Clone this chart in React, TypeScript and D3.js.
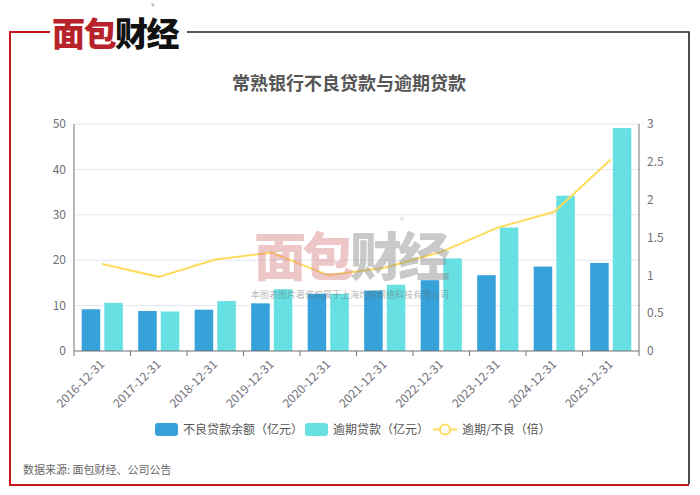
import React, { useEffect, useRef } from 'react';
import * as d3 from 'd3';

// chart data
const categories = [
  '2016-12-31', '2017-12-31', '2018-12-31', '2019-12-31', '2020-12-31',
  '2021-12-31', '2022-12-31', '2023-12-31', '2024-12-31', '2025-12-31',
];
const nplBalance = [9.2, 8.8, 9.1, 10.5, 12.6, 13.3, 15.6, 16.7, 18.6, 19.4];
const overdueLoans = [10.6, 8.7, 11.0, 13.6, 12.6, 14.6, 20.4, 27.2, 34.2, 49.1];
const overdueRatio = [1.15, 0.98, 1.21, 1.30, 1.0, 1.1, 1.31, 1.63, 1.84, 2.53];
const leftTicks = [0, 10, 20, 30, 40, 50];
const rightTicks = [0, 0.5, 1, 1.5, 2, 2.5, 3];
const seriesNames = ['不良贷款余额（亿元）', '逾期贷款（亿元）', '逾期/不良（倍）'];

const FONT = '"Noto Sans CJK SC", "Noto Sans", sans-serif';

const App: React.FC = () => {
  const svgRef = useRef<SVGSVGElement>(null);

  useEffect(() => {
    if (!svgRef.current) return;
    const svg = d3.select(svgRef.current);
    svg.selectAll('*').remove();

    const W = 700;
    const H = 495;
    const plot = { left: 74, right: 639, top: 124, bottom: 351 };

    svg.append('rect').attr('width', W).attr('height', H).attr('fill', '#fff');

    // frame
    const frame = svg.append('g').attr('fill', 'none');
    frame.append('path').attr('d', 'M50,32 H10 V485 H689').attr('stroke', '#c8161d').attr('stroke-width', 2);
    frame.append('path').attr('d', 'M187,32 H689 V484').attr('stroke', '#222').attr('stroke-width', 1.6);

    // logo
    const logo = svg.append('text')
      .attr('x', 52)
      .attr('y', 46)
      .attr('font-family', FONT)
      .attr('font-size', 33)
      .attr('font-weight', 900)
      .attr('letter-spacing', -1.5);
    logo.append('tspan').attr('fill', '#b8222b').text('面包');
    logo.append('tspan').attr('fill', '#111').text('财经');
    svg.append('text')
      .attr('x', 153).attr('y', 9)
      .attr('text-anchor', 'middle')
      .attr('font-size', 7).attr('fill', '#888').attr('font-family', FONT)
      .text('®');

    // title
    svg.append('text')
      .attr('x', 349)
      .attr('y', 90)
      .attr('text-anchor', 'middle')
      .attr('font-family', FONT)
      .attr('font-size', 18)
      .attr('font-weight', 'bold')
      .attr('fill', '#555')
      .text('常熟银行不良贷款与逾期贷款');

    // scales
    const x0 = d3.scaleBand<string>().domain(categories).range([plot.left, plot.right]);
    const x1 = d3.scaleBand<string>()
      .domain(['npl', 'overdue'])
      .range([0, x0.bandwidth()])
      .paddingInner(0.18)
      .paddingOuter(0.34);
    const yL = d3.scaleLinear().domain([0, 50]).range([plot.bottom, plot.top]);
    const yR = d3.scaleLinear().domain([0, 3]).range([plot.bottom, plot.top]);

    // grid
    svg.append('g')
      .selectAll('line')
      .data(leftTicks.slice(1))
      .enter()
      .append('line')
      .attr('x1', plot.left).attr('x2', plot.right)
      .attr('y1', d => yL(d)).attr('y2', d => yL(d))
      .attr('stroke', '#e0e6f1');

    // axes
    const axisColor = '#6e7079';
    svg.append('line')
      .attr('x1', plot.left).attr('x2', plot.left)
      .attr('y1', plot.top).attr('y2', plot.bottom)
      .attr('stroke', axisColor);
    svg.append('line')
      .attr('x1', plot.right).attr('x2', plot.right)
      .attr('y1', plot.top).attr('y2', plot.bottom)
      .attr('stroke', axisColor);

    svg.append('g')
      .selectAll('text')
      .data(leftTicks)
      .enter()
      .append('text')
      .attr('x', plot.left - 8)
      .attr('y', d => yL(d))
      .attr('dy', '0.35em')
      .attr('text-anchor', 'end')
      .attr('font-family', FONT)
      .attr('font-size', 12)
      .attr('fill', axisColor)
      .text(d => d);

    svg.append('g')
      .selectAll('text')
      .data(rightTicks)
      .enter()
      .append('text')
      .attr('x', plot.right + 8)
      .attr('y', d => yR(d))
      .attr('dy', '0.35em')
      .attr('font-family', FONT)
      .attr('font-size', 12)
      .attr('fill', axisColor)
      .text(d => d);

    // bars
    const barData = categories.map((c, i) => ({ c, npl: nplBalance[i], overdue: overdueLoans[i] }));
    const groups = svg.append('g')
      .selectAll('g')
      .data(barData)
      .enter()
      .append('g')
      .attr('transform', d => `translate(${x0(d.c)},0)`);

    groups.append('rect')
      .attr('x', x1('npl')!)
      .attr('width', x1.bandwidth())
      .attr('y', d => yL(d.npl))
      .attr('height', d => plot.bottom - yL(d.npl))
      .attr('fill', '#37a2da');

    groups.append('rect')
      .attr('x', x1('overdue')!)
      .attr('width', x1.bandwidth())
      .attr('y', d => yL(d.overdue))
      .attr('height', d => plot.bottom - yL(d.overdue))
      .attr('fill', '#67e0e3');

    // x axis
    svg.append('line')
      .attr('x1', plot.left).attr('x2', plot.right)
      .attr('y1', plot.bottom).attr('y2', plot.bottom)
      .attr('stroke', axisColor);
    const boundaries = categories.map(c => x0(c)!).concat([plot.right]);
    svg.append('g')
      .selectAll('line')
      .data(boundaries)
      .enter()
      .append('line')
      .attr('x1', d => d).attr('x2', d => d)
      .attr('y1', plot.bottom).attr('y2', plot.bottom + 5)
      .attr('stroke', axisColor);

    svg.append('g')
      .selectAll('text')
      .data(categories)
      .enter()
      .append('text')
      .attr('transform', d => `translate(${x0(d)! + x0.bandwidth() / 2},${plot.bottom + 11}) rotate(-45)`)
      .attr('text-anchor', 'end')
      .attr('dy', '0.35em')
      .attr('font-family', FONT)
      .attr('font-size', 12)
      .attr('fill', axisColor)
      .text(d => d);

    // ratio line
    const line = d3.line<number>()
      .x((_, i) => x0(categories[i])! + x0.bandwidth() / 2)
      .y(d => yR(d));
    svg.append('path')
      .datum(overdueRatio)
      .attr('d', line)
      .attr('fill', 'none')
      .attr('stroke', '#ffdb5c')
      .attr('stroke-width', 2);

    // legend
    const legend = svg.append('g').attr('font-family', FONT).attr('font-size', 12).attr('fill', '#555');
    const lx = [155, 305, 433];
    legend.append('rect').attr('x', lx[0]).attr('y', 423).attr('width', 23).attr('height', 13).attr('rx', 3).attr('fill', '#37a2da');
    legend.append('rect').attr('x', lx[1]).attr('y', 423).attr('width', 23).attr('height', 13).attr('rx', 3).attr('fill', '#67e0e3');
    legend.append('line').attr('x1', lx[2]).attr('x2', lx[2] + 24).attr('y1', 429.5).attr('y2', 429.5)
      .attr('stroke', '#ffdb5c').attr('stroke-width', 2);
    legend.append('circle').attr('cx', lx[2] + 12).attr('cy', 429.5).attr('r', 5)
      .attr('fill', '#fff').attr('stroke', '#ffdb5c').attr('stroke-width', 2);
    const textX = [183, 333, 462];
    seriesNames.forEach((name, i) => {
      legend.append('text')
        .attr('x', textX[i])
        .attr('y', 429.5)
        .attr('dy', '0.35em')
        .text(name);
    });

    // source
    svg.append('text')
      .attr('x', 23)
      .attr('y', 474)
      .attr('font-family', FONT)
      .attr('font-size', 11)
      .attr('fill', '#666')
      .text('数据来源: 面包财经、公司公告');

    // watermark
    const wm = svg.append('g').attr('opacity', 0.45).attr('font-family', FONT);
    const wmText = wm.append('text')
      .attr('x', 254)
      .attr('y', 276)
      .attr('font-size', 52)
      .attr('font-weight', 900)
      .attr('letter-spacing', -4);
    wmText.append('tspan').attr('fill', '#d98486').text('面包');
    wmText.append('tspan').attr('fill', '#8a8a8a').text('财经');
    wm.append('text')
      .attr('x', 402).attr('y', 224)
      .attr('text-anchor', 'middle')
      .attr('font-size', 9).attr('fill', '#999')
      .text('®');
    wm.append('text')
      .attr('x', 350).attr('y', 298)
      .attr('text-anchor', 'middle')
      .attr('font-size', 9).attr('fill', '#666')
      .text('本图表图片著作权属于上海灼探网络科技有限公司');
  }, []);

  return (
    <svg
      ref={svgRef}
      width={700}
      height={495}
      style={{ position: 'absolute', left: 0, top: 0 }}
    />
  );
};

export default App;
